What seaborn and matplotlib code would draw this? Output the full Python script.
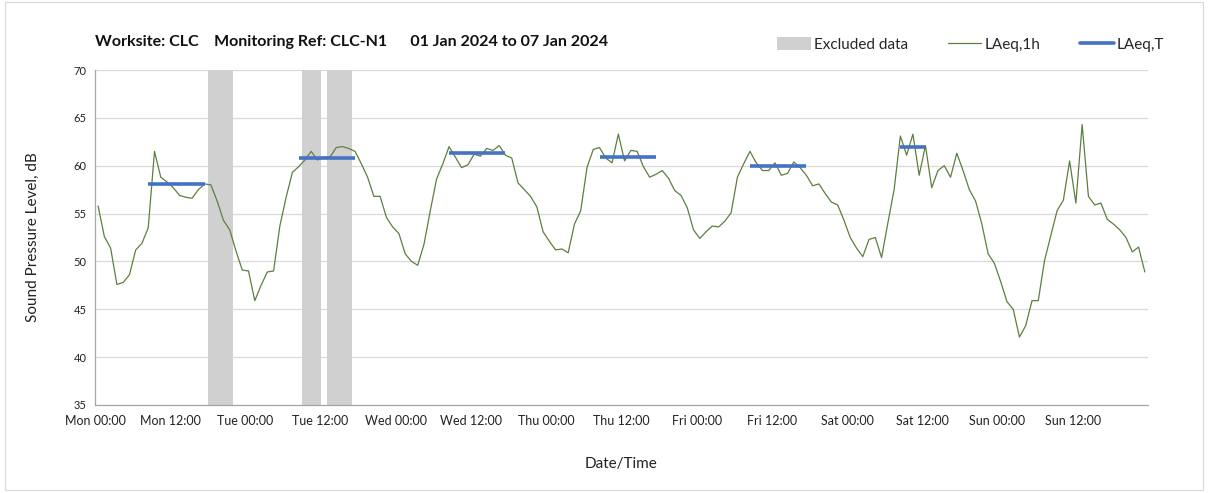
import pandas as pd
import numpy as np
import seaborn as sns
import matplotlib.pyplot as plt
import matplotlib.dates as mdates
from matplotlib.patches import Patch, Rectangle
from matplotlib.lines import Line2D
from matplotlib.ticker import FuncFormatter

sns.set_theme(style="whitegrid")
plt.rcParams['font.family'] = ['Lato', 'DejaVu Sans']

# hourly LAeq,1h values, Mon 00:00 -> Sun 23:00 (one value per hour)
mon = [55.8, 52.6, 51.4, 47.6, 47.8, 48.6, 51.2, 51.9, 53.5, 61.5, 58.8, 58.3,
       57.7, 56.9, 56.7, 56.6, 57.5, 58.1, 58.0, 56.3, 54.3, 53.3, 51.1, 49.1]
tue = [49.0, 45.9, 47.5, 48.9, 49.0, 53.7, 56.7, 59.3, 59.9, 60.6, 61.5, 60.6,
       60.9, 60.9, 61.9, 62.0, 61.8, 61.5, 60.2, 58.8, 56.8, 56.8, 54.6, 53.6]
wed = [52.9, 50.8, 50.0, 49.6, 51.8, 55.3, 58.6, 60.2, 62.0, 60.9, 59.8, 60.1,
       61.2, 61.0, 61.8, 61.6, 62.1, 61.1, 60.8, 58.2, 57.5, 56.8, 55.7, 53.1]
thu = [52.1, 51.2, 51.3, 50.9, 53.9, 55.3, 59.8, 61.7, 61.9, 60.8, 60.3, 63.3,
       60.5, 61.6, 61.5, 59.9, 58.8, 59.1, 59.5, 58.7, 57.4, 56.9, 55.6, 53.3]
fri = [52.4, 53.1, 53.7, 53.6, 54.2, 55.1, 58.8, 60.2, 61.5, 60.3, 59.5, 59.5,
       60.3, 59.0, 59.2, 60.4, 59.8, 59.0, 57.9, 58.1, 57.1, 56.2, 55.9, 54.3]
sat = [52.5, 51.4, 50.5, 52.3, 52.5, 50.4, 54.0, 57.5, 63.1, 61.1, 63.3, 59.0,
       62.1, 57.7, 59.5, 60.0, 58.8, 61.3, 59.5, 57.5, 56.3, 53.9, 50.8, 49.8]
sun = [47.9, 45.8, 45.0, 42.1, 43.3, 45.9, 45.9, 50.1, 52.7, 55.3, 56.4, 60.5,
       56.1, 64.3, 56.8, 55.9, 56.1, 54.4, 53.9, 53.3, 52.5, 51.0, 51.5, 48.9]

# LAeq,T over the daytime assessment period (Mon..Sat)
period_start = ['2024-01-01 08:00', '2024-01-02 08:00', '2024-01-03 08:00',
                '2024-01-04 08:00', '2024-01-05 08:00', '2024-01-06 08:00']
period_end = ['2024-01-01 18:00', '2024-01-02 18:00', '2024-01-03 18:00',
              '2024-01-04 18:00', '2024-01-05 18:00', '2024-01-06 13:00']
laeq_t = [58.1, 60.8, 61.3, 60.9, 60.0, 62.0]

# excluded periods
excl_start = ['2024-01-01 18:00', '2024-01-02 09:00', '2024-01-02 13:00']
excl_end = ['2024-01-01 22:00', '2024-01-02 12:00', '2024-01-02 17:00']

t0 = pd.Timestamp('2024-01-01')
t1 = pd.Timestamp('2024-01-08')
half = pd.Timedelta(minutes=30)
df = pd.DataFrame({
    'time': pd.date_range(t0, periods=168, freq='h') + half,
    'LAeq1h': mon + tue + wed + thu + fri + sat + sun,
})

fig = plt.figure(figsize=(12.08, 4.93), dpi=100)
ax = fig.add_axes([0.0786, 0.1785, 0.8717, 0.6795])

green = '#5d7f3f'
blue = '#4472c4'
grey = '#d0d0d0'

for s, e in zip(excl_start, excl_end):
    ax.axvspan(pd.Timestamp(s), pd.Timestamp(e), color=grey, lw=0, zorder=1)

sns.lineplot(data=df, x='time', y='LAeq1h', ax=ax, color=green, lw=0.9, zorder=3)

for s, e, v in zip(period_start, period_end, laeq_t):
    ax.hlines(v, pd.Timestamp(s) + half, pd.Timestamp(e) - half,
              color=blue, lw=2.6, zorder=4)

ax.set_xlim(t0, t1)
ax.set_ylim(35, 70)
ax.set_yticks(range(35, 71, 5))

end_num = mdates.date2num(t1)


def fmt_time(x, pos):
    if abs(x - end_num) < 1e-6:
        return ''
    return mdates.num2date(x).strftime('%a %H:%M')


ax.xaxis.set_major_locator(mdates.HourLocator(byhour=[0, 12]))
ax.xaxis.set_major_formatter(FuncFormatter(fmt_time))
ax.xaxis.set_minor_locator(mdates.DayLocator())
ax.grid(False, axis='x', which='major')
ax.grid(True, axis='x', which='minor', color='#d9d9d9', lw=0.9)
ax.grid(True, axis='y', color='#d9d9d9', lw=0.9)

ax.tick_params(axis='x', which='major', length=4, width=0.8, color='#a6a6a6',
               labelsize=9, pad=3, labelcolor='#222222')
ax.tick_params(axis='x', which='minor', length=0)
ax.tick_params(axis='y', length=4, width=0.8, color='#a6a6a6', labelsize=8,
               pad=2, labelcolor='#222222')
for sp in ['top', 'right']:
    ax.spines[sp].set_visible(False)
for sp in ['left', 'bottom']:
    ax.spines[sp].set_color('#a6a6a6')
    ax.spines[sp].set_linewidth(0.9)

ax.set_xlabel('Date/Time', fontsize=11, labelpad=22, color='#222222')
ax.set_ylabel('Sound Pressure Level, dB', fontsize=11, labelpad=24, color='#222222')

fig.text(0.0786, 0.915, 'Worksite: CLC    Monitoring Ref: CLC-N1      01 Jan 2024 to 07 Jan 2024',
         fontsize=11.5, fontweight='bold', color='#111111', va='center')

handles = [Patch(color=grey, lw=0),
           Line2D([], [], color=green, lw=0.9),
           Line2D([], [], color=blue, lw=2.6)]
fig.legend(handles, ['Excluded data', 'LAeq,1h', 'LAeq,T'], ncol=3, frameon=False,
           loc='center right', bbox_to_anchor=(0.975, 0.91), fontsize=11,
           handlelength=2.2, handleheight=0.9, columnspacing=2.6, handletextpad=0.2)

fig.patches.append(Rectangle((0.004, 0.006), 0.992, 0.99, transform=fig.transFigure,
                             fill=False, edgecolor='#d9d9d9', lw=0.8))

fig.savefig('out.png', dpi=100)
